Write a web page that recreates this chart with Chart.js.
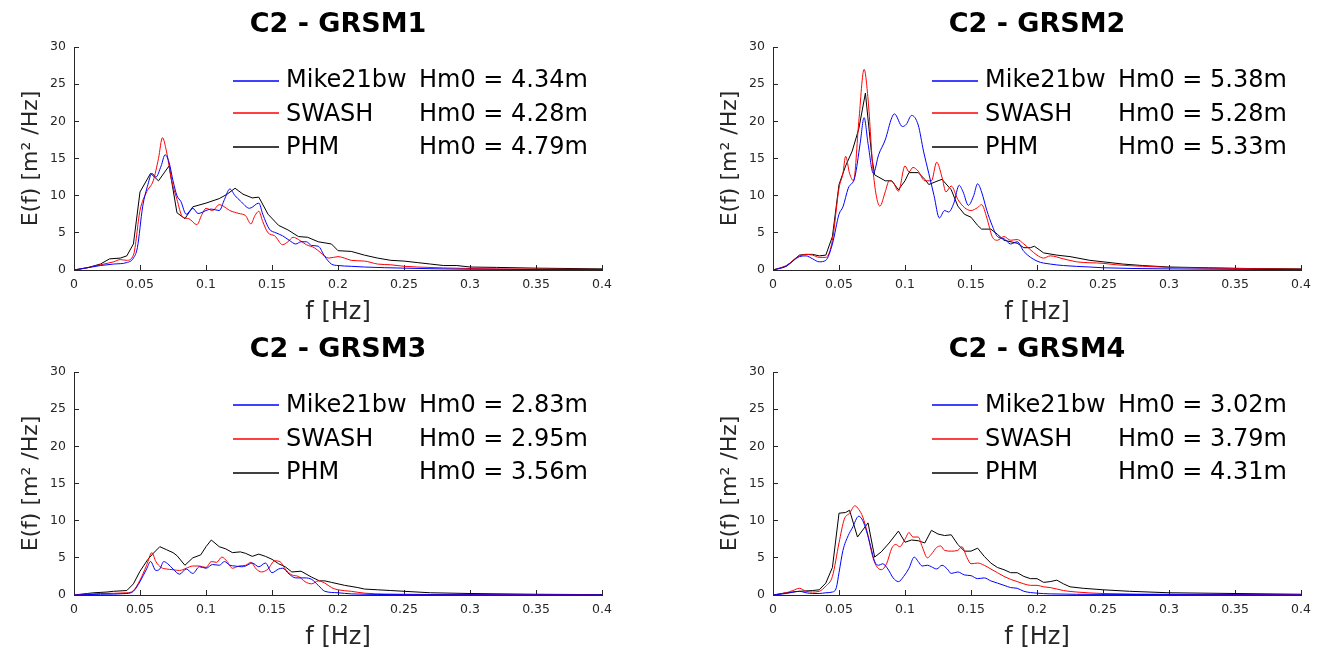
<!DOCTYPE html>
<html>
<head>
<meta charset="utf-8">
<script src="https://cdn.jsdelivr.net/npm/chart.js@4.4.0/dist/chart.umd.min.js"></script>
<style>
  body { margin: 0; background: #fff; overflow: hidden; }
  canvas { position: absolute; }
</style>
</head>
<body>
<canvas id="c1" width="624" height="330" style="left:0;top:0"></canvas>
<canvas id="c2" width="624" height="330" style="left:699px;top:0"></canvas>
<canvas id="c3" width="624" height="330" style="left:0;top:325px"></canvas>
<canvas id="c4" width="624" height="330" style="left:699px;top:325px"></canvas>
<script>
// panel titles, model names and significant wave heights
const titles = ['C2 - GRSM1', 'C2 - GRSM2', 'C2 - GRSM3', 'C2 - GRSM4'];
const models = ['Mike21bw', 'SWASH', 'PHM'];
const modelColors = ['#0000ff', '#ff0000', '#000000'];
const hm0Mike = [4.34, 5.38, 2.83, 3.02];
const hm0Swash = [4.28, 5.28, 2.95, 3.79];
const hm0Phm = [4.79, 5.33, 3.56, 4.31];

const xTicks = [0, 0.05, 0.1, 0.15, 0.2, 0.25, 0.3, 0.35, 0.4];
const yTicks = [0, 5, 10, 15, 20, 25, 30];

// spectra: [f (Hz), E(f) (m2/Hz)]
const grsm1Mike = [[0,0],[0.01,0.3],[0.02,0.6],[0.03,0.8],[0.04,1.0],[0.045,1.6],[0.048,3],[0.052,8.5],[0.056,11.5],[0.059,13],[0.062,12.5],[0.066,14],[0.069,15.5],[0.072,14.5],[0.075,12],[0.078,10],[0.081,9.2],[0.085,7.5],[0.09,8.3],[0.094,7.6],[0.1,8.0],[0.104,8.2],[0.11,8.0],[0.114,9.5],[0.118,10.9],[0.122,10.0],[0.126,9.3],[0.133,8.3],[0.14,9.0],[0.143,7.5],[0.148,5.5],[0.153,5.0],[0.158,4.6],[0.163,4.0],[0.168,3.5],[0.172,3.8],[0.176,3.8],[0.18,3.3],[0.185,3.2],[0.19,1.8],[0.195,0.8],[0.2,0.6],[0.21,0.5],[0.22,0.4],[0.25,0.25],[0.3,0.1],[0.4,0.05]];
const grsm1Swash = [[0,0],[0.01,0.3],[0.02,0.7],[0.03,1.1],[0.035,1.4],[0.04,1.3],[0.045,2],[0.05,8],[0.055,10.5],[0.06,12],[0.064,15],[0.067,17.8],[0.07,16],[0.074,12],[0.078,9.5],[0.082,7.2],[0.087,6.9],[0.093,6.1],[0.097,7.5],[0.1,8.3],[0.105,8.0],[0.11,8.8],[0.113,8.6],[0.118,8.0],[0.125,7.6],[0.13,7.3],[0.134,6.2],[0.137,7.3],[0.14,7.9],[0.143,6.5],[0.147,5.0],[0.152,4.6],[0.158,3.4],[0.162,3.8],[0.166,4.4],[0.17,4.1],[0.176,3.4],[0.182,3.0],[0.187,2.3],[0.193,1.6],[0.2,1.8],[0.205,1.6],[0.21,1.3],[0.22,1.2],[0.23,0.8],[0.24,0.7],[0.25,0.5],[0.26,0.4],[0.3,0.2],[0.35,0.12],[0.4,0.08]];
const grsm1Phm = [[0,0],[0.01,0.3],[0.02,0.8],[0.027,1.5],[0.035,1.6],[0.04,1.9],[0.045,3.5],[0.05,10.5],[0.058,13],[0.064,12],[0.072,14],[0.078,7.7],[0.084,6.9],[0.09,8.5],[0.1,9.0],[0.11,9.6],[0.116,10.2],[0.122,11.0],[0.128,10.2],[0.135,9.7],[0.14,9.8],[0.147,7.5],[0.155,6.0],[0.162,5.4],[0.17,4.5],[0.177,4.4],[0.185,3.8],[0.195,3.5],[0.2,2.6],[0.21,2.5],[0.22,2.0],[0.23,1.6],[0.24,1.3],[0.25,1.2],[0.26,1.0],[0.27,0.8],[0.28,0.6],[0.29,0.6],[0.3,0.4],[0.32,0.35],[0.35,0.25],[0.4,0.15]];

const grsm2Mike = [[0,0],[0.01,0.5],[0.02,1.8],[0.025,1.9],[0.03,1.5],[0.035,1.1],[0.04,1.3],[0.045,3.5],[0.05,7.5],[0.053,8.5],[0.057,11],[0.062,12.5],[0.066,17],[0.069,20.5],[0.072,17],[0.076,13],[0.08,15.5],[0.085,17.5],[0.09,20.5],[0.092,21],[0.098,19.3],[0.101,19.6],[0.105,20.8],[0.11,19.5],[0.114,16],[0.118,13],[0.122,10],[0.126,7],[0.13,8],[0.133,7.8],[0.137,9],[0.141,11.4],[0.144,10.5],[0.148,8.7],[0.152,10],[0.155,11.6],[0.158,10.5],[0.162,8],[0.166,6],[0.17,4.5],[0.175,4.2],[0.18,3.5],[0.185,3.8],[0.19,2.5],[0.2,1.2],[0.21,0.8],[0.22,0.6],[0.24,0.4],[0.25,0.3],[0.3,0.15],[0.4,0.05]];
const grsm2Swash = [[0,0],[0.01,0.6],[0.02,1.9],[0.025,2.1],[0.03,2.0],[0.035,1.7],[0.04,1.7],[0.045,4],[0.05,11],[0.053,13],[0.055,15.3],[0.058,13],[0.061,12],[0.065,20],[0.069,27],[0.072,23],[0.076,13],[0.081,8.6],[0.085,10.5],[0.088,12],[0.091,11.8],[0.095,10.6],[0.1,14],[0.103,13.2],[0.106,13.8],[0.11,13.3],[0.115,12],[0.12,12],[0.124,14.5],[0.128,12.5],[0.131,10.5],[0.135,11.3],[0.14,9.5],[0.145,8.4],[0.15,8.0],[0.155,8.4],[0.158,8.8],[0.162,7],[0.166,4.5],[0.17,4.0],[0.175,4.5],[0.18,4.0],[0.185,4.1],[0.19,3.5],[0.2,2.0],[0.205,1.6],[0.21,1.9],[0.22,1.5],[0.23,1.1],[0.25,0.9],[0.26,0.7],[0.28,0.5],[0.3,0.35],[0.35,0.2],[0.4,0.1]];
const grsm2Phm = [[0,0],[0.01,0.5],[0.02,2.0],[0.025,2.1],[0.03,2.1],[0.035,1.9],[0.04,2.0],[0.045,4.5],[0.05,11.5],[0.055,14],[0.06,16],[0.065,19],[0.07,23.8],[0.075,15],[0.077,12.8],[0.085,12.0],[0.09,12.0],[0.095,10.8],[0.1,12.0],[0.103,13.1],[0.11,13.1],[0.115,12.2],[0.118,11.5],[0.125,12.0],[0.128,12.2],[0.135,10.8],[0.14,8.6],[0.145,7.5],[0.15,7.1],[0.155,6.0],[0.158,5.5],[0.165,5.5],[0.17,4.8],[0.175,4.0],[0.185,3.6],[0.19,3.0],[0.195,3.0],[0.198,3.2],[0.205,2.3],[0.215,2.0],[0.225,1.8],[0.24,1.3],[0.25,1.1],[0.265,0.8],[0.28,0.6],[0.3,0.4],[0.33,0.3],[0.36,0.2],[0.4,0.15]];

const grsm3Mike = [[0,0],[0.02,0.1],[0.04,0.2],[0.045,0.5],[0.05,1.8],[0.055,3.5],[0.058,4.5],[0.062,3.3],[0.065,3.5],[0.068,4.5],[0.071,4.2],[0.075,3.5],[0.08,2.8],[0.085,3.5],[0.09,2.9],[0.095,3.8],[0.1,3.6],[0.105,4.1],[0.11,4.0],[0.114,4.5],[0.118,4.0],[0.122,3.9],[0.127,3.8],[0.13,3.9],[0.135,4.3],[0.14,3.8],[0.145,4.3],[0.15,3.0],[0.155,3.5],[0.158,3.6],[0.163,2.8],[0.168,2.3],[0.175,2.3],[0.18,2.1],[0.185,1.3],[0.19,0.5],[0.2,0.3],[0.21,0.15],[0.25,0.05],[0.4,0.02]];
const grsm3Swash = [[0,0],[0.02,0.2],[0.04,0.3],[0.045,0.6],[0.05,2],[0.055,4],[0.059,5.7],[0.062,4.5],[0.066,3.7],[0.07,3.5],[0.075,3.4],[0.08,3.3],[0.085,3.6],[0.09,3.9],[0.095,3.9],[0.1,3.7],[0.104,4.5],[0.108,4.4],[0.112,5.1],[0.116,4.5],[0.12,3.6],[0.125,3.9],[0.13,4.0],[0.134,4.4],[0.138,3.5],[0.142,3.1],[0.147,3.5],[0.152,4.6],[0.156,4.5],[0.16,3.5],[0.165,2.7],[0.17,2.5],[0.175,1.8],[0.18,1.5],[0.185,1.9],[0.19,1.6],[0.195,1.0],[0.2,0.7],[0.21,0.5],[0.22,0.25],[0.25,0.1],[0.3,0.05],[0.4,0.02]];
const grsm3Phm = [[0,0],[0.01,0.2],[0.015,0.3],[0.025,0.4],[0.03,0.5],[0.04,0.6],[0.045,1.5],[0.05,3.2],[0.056,4.8],[0.06,5.6],[0.065,6.5],[0.07,6.1],[0.075,5.7],[0.078,5.3],[0.084,4.0],[0.09,5.0],[0.096,5.4],[0.1,6.5],[0.104,7.4],[0.11,6.5],[0.115,6.2],[0.12,5.7],[0.126,5.8],[0.13,5.6],[0.135,5.2],[0.14,5.5],[0.145,5.2],[0.15,4.8],[0.155,4.2],[0.16,3.8],[0.165,3.1],[0.172,3.2],[0.18,2.4],[0.186,1.9],[0.19,1.9],[0.195,1.7],[0.2,1.5],[0.205,1.3],[0.215,1.0],[0.22,0.8],[0.23,0.7],[0.24,0.6],[0.25,0.5],[0.27,0.3],[0.3,0.2],[0.35,0.1],[0.4,0.05]];

const grsm4Mike = [[0,0],[0.01,0.2],[0.02,0.5],[0.025,0.3],[0.03,0.2],[0.035,0.2],[0.04,0.3],[0.045,0.4],[0.048,1.0],[0.05,3],[0.053,6],[0.057,8],[0.06,9],[0.065,10.6],[0.068,10],[0.071,8.5],[0.074,6.5],[0.077,4.5],[0.08,4.0],[0.083,4.2],[0.087,3.5],[0.091,2.3],[0.095,1.8],[0.099,2.5],[0.103,3.6],[0.107,5.1],[0.11,4.5],[0.113,3.9],[0.117,4.0],[0.12,3.8],[0.124,3.5],[0.128,4.0],[0.132,3.5],[0.135,2.9],[0.14,3.1],[0.145,2.7],[0.15,2.6],[0.155,2.2],[0.16,2.3],[0.165,1.9],[0.17,1.6],[0.175,1.3],[0.18,1.0],[0.185,0.9],[0.19,0.5],[0.2,0.25],[0.21,0.15],[0.25,0.08],[0.4,0.02]];
const grsm4Swash = [[0,0],[0.01,0.3],[0.015,0.6],[0.02,0.9],[0.025,0.5],[0.03,0.4],[0.035,0.5],[0.04,1.2],[0.045,2.5],[0.05,7],[0.054,10.2],[0.058,11],[0.062,12],[0.065,11.5],[0.068,10.5],[0.072,8],[0.075,5.5],[0.078,4.0],[0.082,3.4],[0.086,4.2],[0.09,6.3],[0.093,6.8],[0.096,6.5],[0.1,7.5],[0.103,8.4],[0.106,7.8],[0.11,7.8],[0.113,6.5],[0.117,5.0],[0.12,5.5],[0.124,6.4],[0.127,6.6],[0.13,6.0],[0.135,5.9],[0.14,6.0],[0.143,6.5],[0.147,5.0],[0.15,4.2],[0.155,4.3],[0.16,4.0],[0.165,3.5],[0.17,3.0],[0.175,2.5],[0.18,2.1],[0.185,1.8],[0.19,1.5],[0.195,1.3],[0.2,1.3],[0.205,1.1],[0.21,1.0],[0.215,0.8],[0.22,0.6],[0.23,0.4],[0.25,0.2],[0.3,0.1],[0.4,0.05]];
const grsm4Phm = [[0,0],[0.01,0.3],[0.02,0.5],[0.03,0.6],[0.035,0.7],[0.04,1.6],[0.045,3.7],[0.05,11],[0.055,11.1],[0.058,11.4],[0.064,7.8],[0.072,9.7],[0.077,5.1],[0.082,5.8],[0.088,7.0],[0.095,8.6],[0.1,7.1],[0.105,7.4],[0.11,7.3],[0.115,7.0],[0.12,8.7],[0.125,8.2],[0.13,8.0],[0.135,8.1],[0.14,6.8],[0.145,5.9],[0.15,5.9],[0.155,6.3],[0.16,5.2],[0.165,4.3],[0.17,3.7],[0.175,3.4],[0.18,3.0],[0.185,3.0],[0.19,2.5],[0.195,2.2],[0.2,2.2],[0.205,1.7],[0.21,1.8],[0.215,2.0],[0.22,1.5],[0.225,1.1],[0.235,0.9],[0.25,0.7],[0.27,0.5],[0.3,0.3],[0.35,0.2],[0.4,0.1]];

const mikeSeries = [grsm1Mike, grsm2Mike, grsm3Mike, grsm4Mike];
const swashSeries = [grsm1Swash, grsm2Swash, grsm3Swash, grsm4Swash];
const phmSeries = [grsm1Phm, grsm2Phm, grsm3Phm, grsm4Phm];

const FONT = '"DejaVu Sans", "Liberation Sans", sans-serif';
const AXIS_COLOR = '#262626';

// legend in the upper right of the axes, like the matlab one
function makeLegend(i) {
  const hm0 = [hm0Mike[i], hm0Swash[i], hm0Phm[i]];
  return {
    id: 'hmLegend' + i,
    afterDraw(chart) {
      const ctx = chart.ctx;
      const a = chart.chartArea;
      const pageTop = chart.canvas.offsetTop;
      ctx.save();
      ctx.font = '24px ' + FONT;
      ctx.textBaseline = 'middle';
      ctx.textAlign = 'left';
      models.forEach((name, k) => {
        const y = a.top + 33 + k * 33.5;
        // keep the thin sample line on a pair of pixel rows so its colour survives
        const ly = 2 * Math.round((pageTop + y - 1) / 2) + 1 - pageTop;
        ctx.strokeStyle = modelColors[k];
        ctx.lineWidth = 1.4;
        ctx.beginPath();
        ctx.moveTo(a.left + 159, ly);
        ctx.lineTo(a.left + 205, ly);
        ctx.stroke();
        ctx.fillStyle = '#000';
        ctx.fillText(name, a.left + 212, y + 1);
        ctx.fillText('Hm0 = ' + hm0[k].toFixed(2) + 'm', a.left + 345, y + 1);
      });
      ctx.restore();
    }
  };
}

function toXY(pairs) {
  return pairs.map(p => ({ x: p[0], y: p[1] }));
}

function fmtTick(v) {
  return String(parseFloat(v.toFixed(2)));
}

function makePanel(id, i) {
  const ctx = document.getElementById(id).getContext('2d');
  new Chart(ctx, {
    type: 'line',
    data: {
      datasets: [
        { label: models[0], data: toXY(mikeSeries[i]), borderColor: modelColors[0], cubicInterpolationMode: 'monotone' },
        { label: models[1], data: toXY(swashSeries[i]), borderColor: modelColors[1], cubicInterpolationMode: 'monotone' },
        { label: models[2], data: toXY(phmSeries[i]), borderColor: modelColors[2], tension: 0 }
      ]
    },
    options: {
      responsive: false,
      animation: false,
      elements: {
        line: { borderWidth: 1 },
        point: { radius: 0 }
      },
      layout: { padding: { left: 0, top: 0, right: 19, bottom: 0 } },
      scales: {
        x: {
          type: 'linear',
          min: 0,
          max: 0.4,
          afterBuildTicks: s => { s.ticks = xTicks.map(v => ({ value: v })); },
          afterFit: s => { s.height = 60; },
          grid: { drawOnChartArea: false, tickLength: -5, color: AXIS_COLOR },
          border: { color: AXIS_COLOR, width: 1 },
          ticks: { color: AXIS_COLOR, font: { family: FONT, size: 12.5 }, padding: 12, maxRotation: 0, callback: fmtTick },
          title: { display: true, text: 'f [Hz]', color: AXIS_COLOR, font: { family: FONT, size: 24, lineHeight: 1.2 }, padding: { top: 0, bottom: 3 } }
        },
        y: {
          min: 0,
          max: 30,
          afterBuildTicks: s => { s.ticks = yTicks.map(v => ({ value: v })); },
          afterFit: s => { s.width = 74; },
          grid: { drawOnChartArea: false, tickLength: -5, color: AXIS_COLOR },
          border: { color: AXIS_COLOR, width: 1 },
          ticks: { color: AXIS_COLOR, font: { family: FONT, size: 12.5 }, padding: 13, callback: fmtTick },
          title: { display: true, text: 'E(f) [m² /Hz]', color: AXIS_COLOR, font: { family: FONT, size: 22, lineHeight: 1.2 }, padding: { top: 18, bottom: 0 } }
        }
      },
      plugins: {
        legend: { display: false },
        tooltip: { enabled: false },
        title: {
          display: true,
          text: titles[i],
          fullSize: false,
          color: '#000',
          font: { family: FONT, size: 27, weight: 'bold', lineHeight: 1 },
          padding: { top: 11, bottom: 9 }
        }
      }
    },
    plugins: [makeLegend(i)]
  });
}

['c1', 'c2', 'c3', 'c4'].forEach((id, i) => makePanel(id, i));
</script>
</body>
</html>
